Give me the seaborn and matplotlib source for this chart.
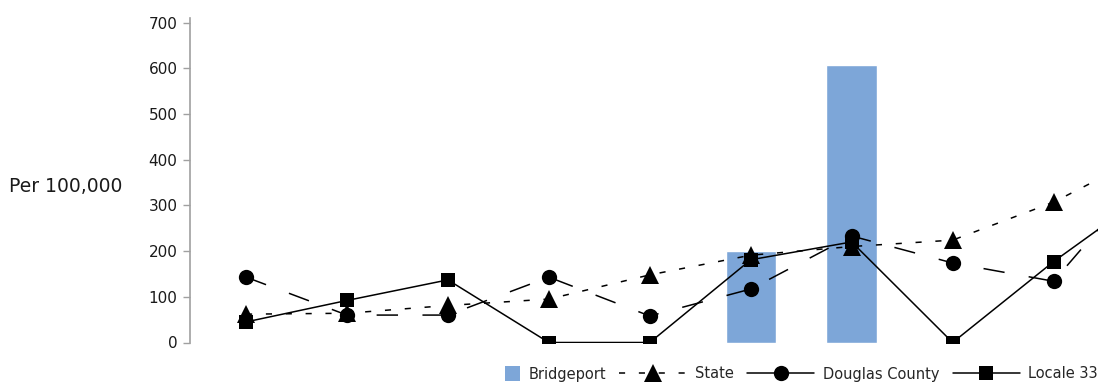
import numpy as np
import pandas as pd
import matplotlib
matplotlib.use("Agg")
import matplotlib.pyplot as plt
import seaborn as sns
from matplotlib.patches import Patch, Rectangle
from matplotlib.lines import Line2D
from matplotlib.legend_handler import HandlerPatch

categories = ["1", "2", "3", "4", "5", "6", "7", "8", "9", "10"]
bridgeport = [0, 0, 0, 0, 0, 200, 608, 0, 0, 0]
state = [62, 64, 81, 95, 148, 191, 210, 224, 307, 420]
douglas = [143, 60, 60, 143, 58, 117, 233, 174, 134, 390]
locale33 = [45, 92, 137, 0, 0, 181, 220, 0, 177, 336]
yticks = [0, 100, 200, 300, 400, 500, 600, 700]

BAR_COLOR = "#7DA6D8"

sns.set_theme(style="white")
plt.rcParams["font.family"] = ["DejaVu Sans"]

fig = plt.figure(figsize=(10.98, 3.86), dpi=100)
ax = fig.add_axes([190 / 1098, 43.5 / 386, 1 - 190 / 1098, (342.5 - 18) / 386])

df = pd.DataFrame({"cat": categories, "Bridgeport": bridgeport, "State": state,
                   "Douglas": douglas, "Locale": locale33, "idx": np.arange(len(categories))})

sns.barplot(data=df, x="cat", y="Bridgeport", order=categories, color=BAR_COLOR,
            saturation=1, width=0.5, ax=ax, zorder=1)

ms = 11
sns.lineplot(data=df, x="idx", y="State", ax=ax, color="black", lw=1.1,
             linestyle=(0, (4, 9)), marker="^", markersize=ms + 1.5, markeredgewidth=0, zorder=3)
sns.lineplot(data=df, x="idx", y="Douglas", ax=ax, color="black", lw=1.1,
             linestyle=(0, (14, 16)), marker="o", markersize=ms, markeredgewidth=0, zorder=4)
sns.lineplot(data=df, x="idx", y="Locale", ax=ax, color="black", lw=1.1,
             linestyle="-", marker="s", markersize=ms - 0.5, markeredgewidth=0, zorder=5)

ax.set_xlim(-0.555, 8.44)
ax.set_ylim(0, 710)
ax.set_yticks(yticks)
ax.set_yticklabels([str(v) for v in yticks], fontsize=11, color="#1a1a1a")
ax.tick_params(axis="y", which="both", left=True, length=5, width=1, color="#A0A0A0", pad=4)
ax.set_xticks([])
ax.set_xlabel("")
ax.set_ylabel("Per 100,000", rotation=0, fontsize=13.5, color="#1a1a1a",
              ha="center", va="center")
ax.yaxis.set_label_coords((66 - 190) / 908, (342.5 - 187) / 324.5)
for s in ["top", "right", "bottom"]:
    ax.spines[s].set_visible(False)
ax.spines["left"].set_color("#A0A0A0")
ax.spines["left"].set_linewidth(1.2)
ax.set_facecolor("white")


def small_square(legend, orig_handle, xdescent, ydescent, width, height, fontsize):
    side = 10.5
    return Rectangle((width - side - xdescent, -ydescent + (height - side) / 2), side, side)


handles = [
    Patch(facecolor=BAR_COLOR, edgecolor="none"),
    Line2D([], [], color="black", lw=1.1, linestyle=(0, (4, 9)), marker="^", markersize=ms + 1.5, markeredgewidth=0),
    Line2D([], [], color="black", lw=1.1, linestyle="-", marker="o", markersize=ms, markeredgewidth=0),
    Line2D([], [], color="black", lw=1.1, linestyle="-", marker="s", markersize=ms - 0.5, markeredgewidth=0),
]
labels = ["Bridgeport", "State", "Douglas County", "Locale 33"]
fig.legend(handles, labels, loc="center right", bbox_to_anchor=(1.0, 12 / 386), ncol=4,
           frameon=False, fontsize=10.5, handlelength=4.6, handleheight=0.9,
           columnspacing=0.9, handletextpad=0.6, borderaxespad=0, borderpad=0,
           handler_map={Patch: HandlerPatch(patch_func=small_square)})

fig.savefig("out.png", dpi=100, facecolor="white")
